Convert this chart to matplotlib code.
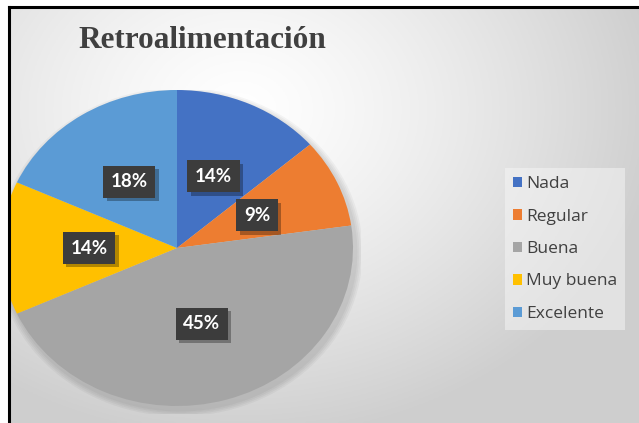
import numpy as np
import matplotlib
matplotlib.use("Agg")
import matplotlib.pyplot as plt
from matplotlib.patches import Patch, Ellipse
import matplotlib.patheffects as pe

# ---- data ----
categories = ["Nada", "Regular", "Buena", "Muy buena", "Excelente"]
counts = [3, 2, 10, 3, 4]
pct_labels = ["14%", "9%", "45%", "14%", "18%"]
colors = ["#4472C4", "#ED7D31", "#A5A5A5", "#FFC000", "#5B9BD5"]
title = "Retroalimentación"

W, H = 639, 423
fig = plt.figure(figsize=(W / 100, H / 100), dpi=100)
fig.patch.set_facecolor("white")

def fx(px):
    return px / W

def fy(py):
    return 1 - py / H

# ---- background (chart area gradient) ----
x0, y0 = 10, 8
bg = fig.add_axes([fx(x0), 0, 1 - fx(x0), fy(y0)])
bg.set_axis_off()
gx = np.linspace(x0, W, 300)
gy = np.linspace(y0, H, 200)
GX, GY = np.meshgrid(gx, gy)
d = np.sqrt(((GX - 240) / 420) ** 2 + ((GY - 110) / 330) ** 2)
d = np.clip(d, 0, 1) ** 1.3
val = 1.0 - d * (1.0 - 0.81)
img = np.dstack([val, val, val])
bg.imshow(img, extent=[0, 1, 0, 1], aspect="auto", origin="upper")
bg.set_xlim(0, 1)
bg.set_ylim(0, 1)

# ---- pie ----
cx, cy, rx, ry = 177, 248, 176, 158
left_px = x0
ax = fig.add_axes([fx(left_px), fy(cy + ry + 8), fx(cx + rx + 8 - left_px), (2 * ry + 8) / H])
ax.patch.set_alpha(0)

# soft shadow
for i in range(4):
    s = 1 + 0.01 * (i + 1)
    e = Ellipse((0.015, -0.025), 2 * s, 2 * s, facecolor="black", alpha=0.035, lw=0, zorder=0)
    ax.add_patch(e)
    e.set_clip_on(True)

wedges, texts = ax.pie(counts, colors=colors, startangle=90, counterclock=False,
                       wedgeprops=dict(linewidth=0))
for w in wedges:
    w.set_zorder(2)
    w.set_clip_on(True)
    w.set_clip_box(ax.bbox)
ax.set_aspect("auto")
ax.set_xlim((left_px - cx) / rx, (cx + rx + 8 - cx) / rx)
ax.set_ylim(-1 - 8 / ry, 1)

total = sum(counts)
angle = 90.0
for lab, c in zip(pct_labels, counts):
    span = 360.0 * c / total
    mid = np.deg2rad(angle - span / 2)
    angle -= span
    r = 0.5
    tx, ty = r * np.cos(mid), r * np.sin(mid)
    t = ax.text(tx, ty, lab, ha="center", va="center", fontsize=13.5, fontweight="bold",
                family="Lato", color="white", zorder=5,
                bbox=dict(boxstyle="square,pad=0.4", facecolor="#3c3c3c", lw=0))
    t.get_bbox_patch().set_path_effects([
        pe.SimplePatchShadow(offset=(2.5, -2.5), shadow_rgbFace="black", alpha=0.3),
        pe.Normal()])

# frame lines (on top)
fig.add_artist(plt.Line2D([fx(x0 - 1), fx(x0 - 1)], [0, fy(y0 - 1)], color="black", lw=2.2, zorder=10))
fig.add_artist(plt.Line2D([fx(x0 - 1), 1], [fy(y0 - 1), fy(y0 - 1)], color="black", lw=2.2, zorder=10))

# ---- title ----
fig.text(fx(202), fy(48), title, ha="center", va="baseline", fontsize=22.5,
         fontweight="bold", family="Liberation Serif", color="#404040")

# ---- legend ----
handles = [Patch(facecolor=c, edgecolor="none") for c in colors]
leg = fig.legend(handles, categories, loc="center left", bbox_to_anchor=(fx(505), fy(249)),
                 frameon=True, fancybox=False, framealpha=0.5, facecolor="#f6f6f6",
                 edgecolor="none", prop=dict(family="Open Sans", size=12.5),
                 labelspacing=0.95, handlelength=0.55, handleheight=0.55,
                 handletextpad=0.2, borderpad=0.45, borderaxespad=0)
for t in leg.get_texts():
    t.set_color("#404040")

fig.savefig("out.png", dpi=100)
